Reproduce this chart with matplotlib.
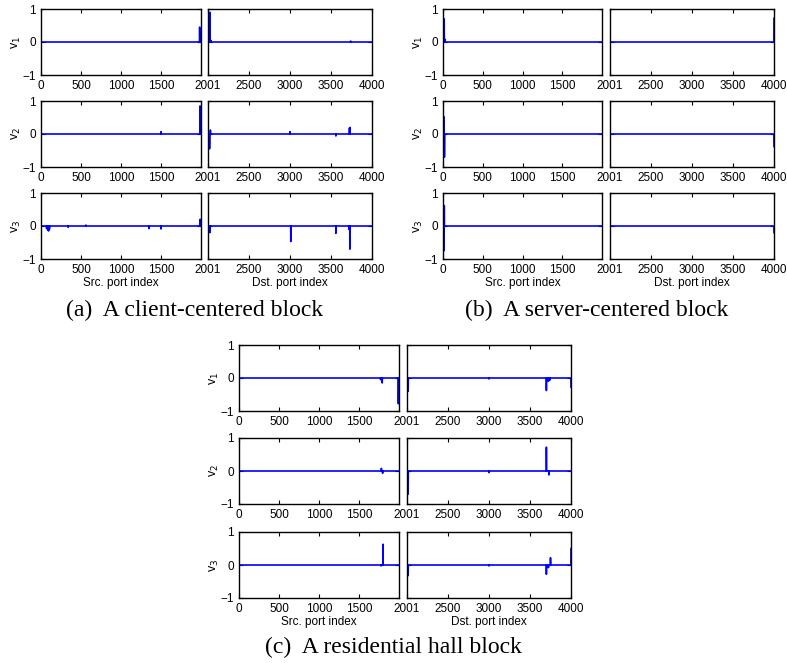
import numpy as np
import matplotlib.pyplot as plt

# spike positions / values: (port, value)
# (a) client-centered block
a_src_v1 = [(1983, 0.45)]
a_src_v2 = [(1500, 0.07), (1988, 0.85)]
a_src_v3 = [(70, -0.08), (85, -0.12), (95, -0.15), (105, -0.1), (340, -0.04),
            (560, 0.03), (1350, -0.08), (1500, -0.09), (1990, 0.2)]
a_dst_v1 = [(2025, 0.9), (2035, 0.05), (3740, 0.03)]
a_dst_v2 = [(2020, -0.45), (2030, 0.12), (3000, 0.07), (3560, -0.06),
            (3725, 0.18), (3732, 0.2)]
a_dst_v3 = [(2025, -0.2), (3010, -0.47), (3560, -0.22), (3720, -0.1), (3730, -0.7)]

# (b) server-centered block
b_src_v1 = [(15, 0.7), (25, 0.08)]
b_src_v2 = [(12, 0.52), (18, -0.7)]
b_src_v3 = [(12, -0.75), (16, 0.62)]
b_dst_v1 = [(4000, 0.72)]
b_dst_v2 = [(4000, -0.38)]
b_dst_v3 = [(4000, -0.2)]

# (c) residential hall block
c_src_v1 = [(1770, -0.05), (1790, -0.15), (1992, -0.78)]
c_src_v2 = [(1780, 0.08), (1795, -0.07)]
c_src_v3 = [(1775, -0.03), (1800, 0.63)]
c_dst_v1 = [(2015, -0.4), (3000, -0.03), (3700, -0.38), (3725, -0.1),
            (3745, -0.06), (4000, -0.28)]
c_dst_v2 = [(2015, -0.7), (3000, -0.05), (3700, 0.72), (3730, -0.12)]
c_dst_v3 = [(2015, -0.32), (3000, -0.03), (3700, -0.28), (3725, -0.08),
            (3750, 0.22), (4000, 0.5)]

src_ticks = [0, 500, 1000, 1500]
dst_ticks = [2001, 2500, 3000, 3500, 4000]

W, H = 787, 663
fig = plt.figure(figsize=(W / 100, H / 100), dpi=100)
plt.rcParams['font.family'] = ['Liberation Sans', 'DejaVu Sans']


def series(spikes, start, stop):
    x = np.arange(start, stop + 1)
    y = np.zeros(len(x))
    for p, v in spikes:
        y[p - start] = v
    return x, y


def style(ax, xlim, ticks):
    ax.set_xlim(xlim)
    ax.set_ylim(-1, 1)
    ax.set_xticks(ticks)
    ax.set_yticks([-1, 0, 1])
    ax.tick_params(direction='in', top=True, right=True, length=3,
                   labelsize=8.5, pad=3.5, width=0.8)
    for s in ax.spines.values():
        s.set_linewidth(1.0)


def block(src, dst, left_x, right_x, tops, h, caption, cap_xy):
    for i in range(3):
        b = 1 - (tops[i] + h) / H
        axl = fig.add_axes([left_x[0] / W, b, (left_x[1] - left_x[0]) / W, h / H])
        axr = fig.add_axes([right_x[0] / W, b, (right_x[1] - right_x[0]) / W, h / H])
        x, y = series(src[i], 0, 2000)
        axl.plot(x, y, color='#0000ff', lw=1.2)
        x, y = series(dst[i], 2001, 4000)
        axr.plot(x, y, color='#0000ff', lw=1.2)
        style(axl, (0, 2000), src_ticks)
        style(axr, (2001, 4000), dst_ticks)
        axr.set_yticklabels([])
        axl.set_ylabel(r'v$_%d$' % (i + 1), fontsize=9, labelpad=0)
        if i == 2:
            axl.set_xlabel('Src. port index', fontsize=8.5, labelpad=1)
            axr.set_xlabel('Dst. port index', fontsize=8.5, labelpad=1)
    fig.text(cap_xy[0] / W, 1 - cap_xy[1] / H, caption, ha='center', va='center',
             fontsize=17, family='Liberation Serif')


block([a_src_v1, a_src_v2, a_src_v3], [a_dst_v1, a_dst_v2, a_dst_v3],
      (41, 201), (208, 372), [9, 101, 193], 66,
      '(a)  A client-centered block', (195, 310))
block([b_src_v1, b_src_v2, b_src_v3], [b_dst_v1, b_dst_v2, b_dst_v3],
      (443, 602), (610, 774), [9, 101, 193], 66,
      '(b)  A server-centered block', (597, 310))
block([c_src_v1, c_src_v2, c_src_v3], [c_dst_v1, c_dst_v2, c_dst_v3],
      (239, 399), (407, 571), [345, 438, 532], 66,
      '(c)  A residential hall block', (393, 647))

fig.savefig('out.png', dpi=100)
